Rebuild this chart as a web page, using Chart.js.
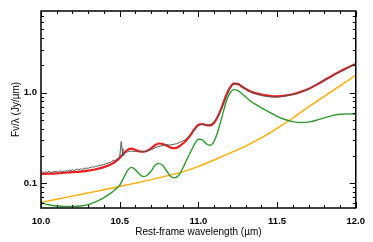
<!DOCTYPE html>
<html><head><meta charset="utf-8">
<script src="https://cdn.jsdelivr.net/npm/chart.js@4/dist/chart.umd.min.js"></script>
<style>html,body{margin:0;padding:0;background:#fff}#wrap{width:373px;height:242px;position:relative}</style>
</head><body><div id="wrap"><canvas id="c" width="373" height="242"></canvas></div>
<script>
// ---- data ----
const xTicks = [10.0, 10.5, 11.0, 11.5, 12.0];
const xMinorTicks = [10.1,10.2,10.3,10.4,10.6,10.7,10.8,10.9,11.1,11.2,11.3,11.4,11.6,11.7,11.8,11.9];
const yTicks = [0.1, 1.0];
const yMinorTicks = [0.06,0.07,0.08,0.09,0.2,0.3,0.4,0.5,0.6,0.7,0.8,0.9,2,3,4,5,6,7];
const xTitle = 'Rest-frame wavelength (\u00b5m)';
const yTitle = 'F\u03bd/\u03bb (Jy/\u00b5m)';

// observed spectrum (grey)
const greyX = [10.00,10.01,10.02,10.03,10.04,10.05,10.06,10.07,10.08,10.09,10.10,10.11,10.12,10.13,10.14,10.15,10.16,10.17,10.18,10.19,10.20,10.21,10.22,10.23,10.24,10.25,10.26,10.27,10.28,10.29,10.30,10.31,10.32,10.33,10.34,10.35,10.36,10.37,10.38,10.39,10.40,10.41,10.42,10.43,10.44,10.45,10.46,10.47,10.48,10.49,10.50,10.505,10.51,10.515,10.52,10.53,10.54,10.55,10.56,10.57,10.58,10.59,10.60,
10.62,10.64,10.66,10.68,10.70,10.72,10.74,10.76,10.78,10.80,10.82,10.84,10.86,10.88,10.90,10.92,10.94,10.96,10.98,11.00,11.02,11.04,11.06,11.08,11.10,11.12,11.14,11.16,11.18,11.20,11.22,11.24,11.26,11.28,11.30,11.32,11.34,11.36,11.38,11.40,11.42,11.44,11.46,11.48,11.50,11.52,11.54,11.56,11.58,11.60,11.62,11.64,11.66,11.68,11.70,11.72,11.74,11.76,11.78,11.80,11.82,11.84,11.86,11.88,11.90,11.92,11.94,11.96,11.98,12.00];
const greyY = [0.130,0.133,0.129,0.134,0.131,0.135,0.132,0.130,0.136,0.133,0.135,0.131,0.137,0.134,0.136,0.133,0.138,0.135,0.139,0.136,0.141,0.137,0.140,0.143,0.139,0.144,0.141,0.146,0.143,0.147,0.145,0.150,0.147,0.152,0.150,0.155,0.152,0.158,0.156,0.161,0.159,0.165,0.163,0.169,0.167,0.174,0.178,0.176,0.184,0.188,0.192,0.240,0.288,0.240,0.200,0.210,0.218,0.222,0.226,0.224,0.227,0.222,0.225,
0.221,0.224,0.222,0.228,0.234,0.243,0.252,0.256,0.262,0.266,0.262,0.268,0.272,0.281,0.292,0.305,0.325,0.355,0.395,0.430,0.445,0.440,0.435,0.445,0.475,0.54,0.63,0.75,0.92,1.10,1.24,1.26,1.23,1.16,1.10,1.05,1.00,0.975,0.95,0.93,0.915,0.905,0.895,0.89,0.895,0.90,0.91,0.925,0.94,0.955,0.98,1.00,1.03,1.065,1.10,1.15,1.20,1.26,1.31,1.37,1.43,1.49,1.56,1.62,1.69,1.76,1.84,1.92,2.00,2.07];

// model wavelength grid (red total fit, green features)
const modelX = [10.00,10.05,10.10,10.15,10.20,10.25,10.30,10.35,10.40,
  10.450,10.475,10.500,10.525,10.550,10.575,10.600,10.625,10.650,10.675,10.700,10.725,10.750,10.775,10.800,10.825,10.850,10.875,10.900,10.925,10.950,10.975,
  11.000,11.025,11.050,11.075,11.100,11.125,11.150,11.175,11.200,11.225,11.250,11.275,11.300,11.325,11.350,
  11.40,11.45,11.50,11.55,11.60,11.65,11.70,11.75,11.80,11.85,11.90,11.95,12.00];
const redY = [0.126,0.127,0.128,0.130,0.132,0.134,0.137,0.142,0.150,
  0.163,0.174,0.190,0.213,0.233,0.240,0.233,0.225,0.222,0.228,0.242,0.262,0.274,0.270,0.258,0.246,0.243,0.252,0.272,0.300,0.340,0.395,
  0.440,0.450,0.437,0.435,0.465,0.55,0.70,0.92,1.13,1.26,1.25,1.17,1.10,1.04,1.00,
  0.955,0.925,0.91,0.925,0.96,1.02,1.10,1.22,1.37,1.54,1.72,1.90,2.08];
const greenY = [0.061,0.0575,0.0558,0.0552,0.0552,0.0558,0.0578,0.0622,0.0690,
  0.079,0.086,0.095,0.114,0.138,0.149,0.140,0.126,0.118,0.122,0.136,0.157,0.165,0.155,0.135,0.118,0.114,0.122,0.145,0.180,0.220,0.268,
  0.305,0.300,0.272,0.262,0.290,0.38,0.54,0.78,0.98,1.08,1.06,0.98,0.90,0.82,0.765,
  0.68,0.61,0.548,0.505,0.478,0.467,0.472,0.495,0.527,0.557,0.576,0.583,0.58];

// continuum (orange)
const orangeX = [10.0,10.1,10.2,10.3,10.4,10.5,10.6,10.7,10.8,10.9,11.0,11.1,11.2,11.3,11.4,11.5,11.6,11.7,11.8,11.9,12.0];
const orangeY = [0.0611,0.0662,0.0718,0.0778,0.0843,0.0916,0.0998,0.109,0.120,0.133,0.153,0.180,0.214,0.257,0.316,0.403,0.525,0.695,0.91,1.19,1.56];

const pts = (xs, ys) => xs.map((x, i) => ({x, y: ys[i]}));

const framePlugin = {
  id: 'frame',
  afterDatasetsDraw(chart) {
    const {ctx, chartArea: a, scales: {x, y}} = chart;
    ctx.save();
    ctx.strokeStyle = '#000';
    ctx.lineWidth = 1;
    const tick = (vals, len, horiz) => {
      vals.forEach(v => {
        ctx.beginPath();
        if (horiz) {
          const px = Math.round(x.getPixelForValue(v)) + 0.5;
          ctx.moveTo(px, a.bottom); ctx.lineTo(px, a.bottom - len);
          ctx.moveTo(px, a.top); ctx.lineTo(px, a.top + len);
        } else {
          const py = Math.round(y.getPixelForValue(v)) + 0.5;
          ctx.moveTo(a.left, py); ctx.lineTo(a.left + len, py);
          ctx.moveTo(a.right, py); ctx.lineTo(a.right - len, py);
        }
        ctx.stroke();
      });
    };
    tick(xTicks, 6, true);
    tick(xMinorTicks, 3, true);
    tick(yTicks, 6, false);
    tick(yMinorTicks, 3, false);
    ctx.lineWidth = 1.5;
    ctx.strokeRect(a.left, a.top, a.right - a.left, a.bottom - a.top);
    ctx.restore();
  }
};

const tickFont = {family: 'Liberation Sans, Arial, sans-serif', size: 9.5, weight: 'bold'};
const titleFont = {family: 'Liberation Sans, Arial, sans-serif', size: 10, weight: 'normal'};

new Chart(document.getElementById('c'), {
  type: 'line',
  data: {
    datasets: [
      {data: pts(greyX, greyY), borderColor: '#555555', borderWidth: 1, pointRadius: 0, tension: 0},
      {data: pts(modelX, redY), borderColor: '#ee1c1c', borderWidth: 2.2, pointRadius: 0, cubicInterpolationMode: 'monotone'},
      {data: pts(modelX, greenY), borderColor: '#2e9a2e', borderWidth: 1.4, pointRadius: 0, cubicInterpolationMode: 'monotone'},
      {data: pts(orangeX, orangeY), borderColor: '#ffaa00', borderWidth: 1.4, pointRadius: 0, cubicInterpolationMode: 'monotone'}
    ]
  },
  options: {
    responsive: false,
    animation: false,
    events: [],
    layout: {padding: {left: 0, right: 10, top: 11, bottom: 0}},
    plugins: {legend: {display: false}, tooltip: {enabled: false}},
    scales: {
      x: {
        type: 'linear', min: 10, max: 12,
        afterBuildTicks: s => { s.ticks = xTicks.map(v => ({value: v})); },
        afterFit: s => { s.height = 34; },
        grid: {display: false, drawTicks: false},
        border: {display: false},
        ticks: {font: tickFont, color: '#000', padding: 8, maxRotation: 0, autoSkip: false,
                callback: v => Number(v).toFixed(1)},
        title: {display: true, text: xTitle, font: titleFont, color: '#000', padding: {top: 0, bottom: 4}}
      },
      y: {
        type: 'logarithmic', min: 0.053, max: 8.0,
        afterBuildTicks: s => { s.ticks = yTicks.map(v => ({value: v})); },
        afterFit: s => { s.width = 41; },
        grid: {display: false, drawTicks: false},
        border: {display: false},
        ticks: {font: tickFont, color: '#000', padding: 4, autoSkip: false,
                callback: v => Number(v).toFixed(1)},
        title: {display: true, text: yTitle, font: titleFont, color: '#000', padding: {top: 10, bottom: 0}}
      }
    }
  },
  plugins: [framePlugin]
});
</script></body></html>
